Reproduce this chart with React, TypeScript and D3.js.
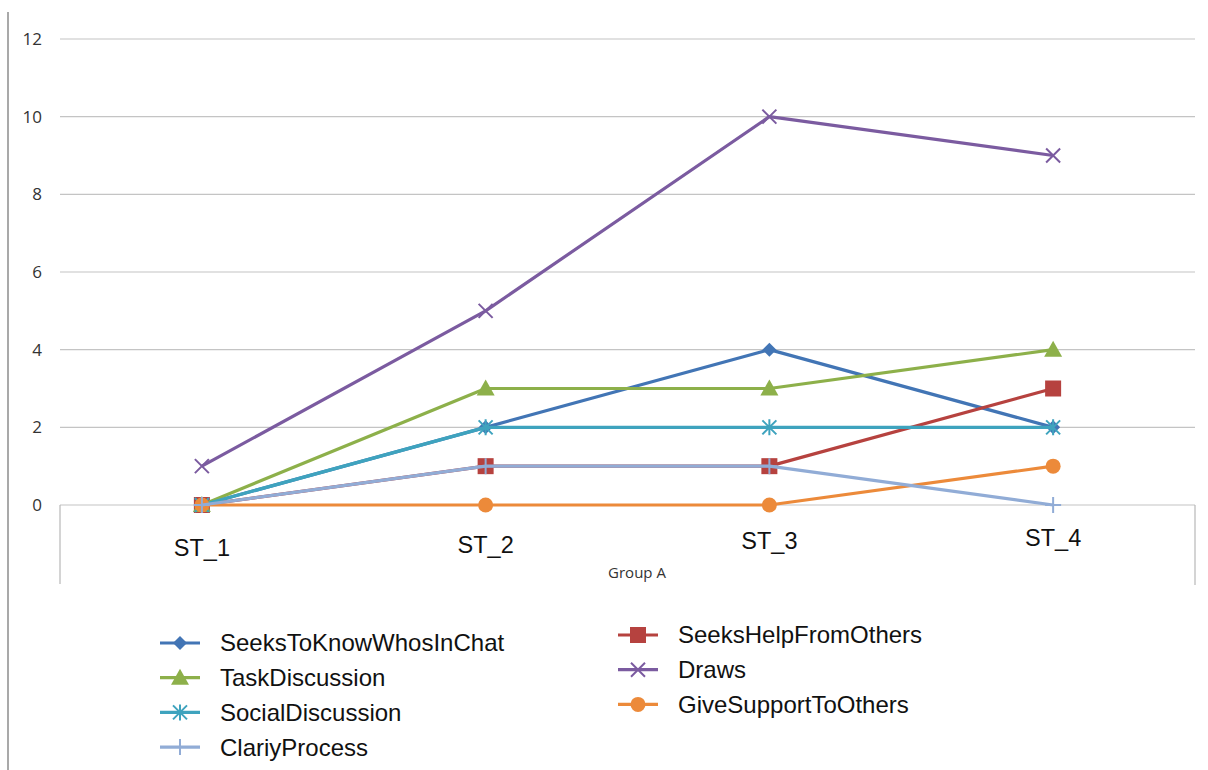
import React, { useEffect, useRef } from 'react';
import * as d3 from 'd3';

const categories = ['ST_1', 'ST_2', 'ST_3', 'ST_4'];
const yTicks = [0, 2, 4, 6, 8, 10, 12];

const seeksToKnow = [0, 2, 4, 2];
const seeksHelp = [0, 1, 1, 3];
const taskDiscussion = [0, 3, 3, 4];
const draws = [1, 5, 10, 9];
const socialDiscussion = [0, 2, 2, 2];
const giveSupport = [0, 0, 0, 1];
const clariyProcess = [0, 1, 1, 0];

type Series = { name: string; values: number[]; color: string; marker: string };

const series: Series[] = [
    { name: 'SeeksToKnowWhosInChat', values: seeksToKnow, color: '#4275B5', marker: 'diamond' },
    { name: 'SeeksHelpFromOthers', values: seeksHelp, color: '#B6423F', marker: 'square' },
    { name: 'TaskDiscussion', values: taskDiscussion, color: '#8DB04A', marker: 'triangle' },
    { name: 'Draws', values: draws, color: '#7B5BA0', marker: 'x' },
    { name: 'SocialDiscussion', values: socialDiscussion, color: '#3EA3BE', marker: 'star' },
    { name: 'GiveSupportToOthers', values: giveSupport, color: '#EC8A3A', marker: 'circle' },
    { name: 'ClariyProcess', values: clariyProcess, color: '#91ACD6', marker: 'plus' },
];

const legendLeft = ['SeeksToKnowWhosInChat', 'TaskDiscussion', 'SocialDiscussion', 'ClariyProcess'];
const legendRight = ['SeeksHelpFromOthers', 'Draws', 'GiveSupportToOthers'];

function drawMarker(g: d3.Selection<SVGGElement, unknown, null, undefined>, kind: string, x: number, y: number, color: string) {
    if (kind === 'diamond') {
        g.append('path').attr('d', `M${x},${y - 7}L${x + 7},${y}L${x},${y + 7}L${x - 7},${y}Z`).attr('fill', color);
    } else if (kind === 'square') {
        g.append('rect').attr('x', x - 8).attr('y', y - 8).attr('width', 16).attr('height', 16).attr('fill', color);
    } else if (kind === 'triangle') {
        g.append('path').attr('d', `M${x},${y - 9}L${x + 9},${y + 7}L${x - 9},${y + 7}Z`).attr('fill', color);
    } else if (kind === 'circle') {
        g.append('circle').attr('cx', x).attr('cy', y).attr('r', 7.5).attr('fill', color);
    } else if (kind === 'x') {
        g.append('path').attr('d', `M${x - 7},${y - 7}L${x + 7},${y + 7}M${x - 7},${y + 7}L${x + 7},${y - 7}`)
            .attr('stroke', color).attr('stroke-width', 2);
    } else if (kind === 'star') {
        g.append('path')
            .attr('d', `M${x - 7},${y - 7}L${x + 7},${y + 7}M${x - 7},${y + 7}L${x + 7},${y - 7}M${x},${y - 8}L${x},${y + 8}`)
            .attr('stroke', color).attr('stroke-width', 2);
    } else if (kind === 'plus') {
        g.append('path').attr('d', `M${x - 8},${y}L${x + 8},${y}M${x},${y - 8}L${x},${y + 8}`)
            .attr('stroke', color).attr('stroke-width', 2);
    }
}

export default function App() {
    const svgRef = useRef<SVGSVGElement | null>(null);

    useEffect(() => {
        if (!svgRef.current) return;
        const svg = d3.select(svgRef.current);
        svg.selectAll('*').remove();

        const left = 60;
        const right = 1195;
        const top = 39;
        const bottom = 505;

        const x = d3.scaleBand().domain(categories).range([left, right]);
        const y = d3.scaleLinear().domain([0, 12]).range([bottom, top]);
        const cx = (c: string) => x(c)! + x.bandwidth() / 2;

        // outer border on the left
        svg.append('line').attr('x1', 8).attr('x2', 8).attr('y1', 12).attr('y2', 770)
            .attr('stroke', '#8c8c8c').attr('stroke-width', 1.5);

        // gridlines
        svg.append('g').selectAll('line').data(yTicks).join('line')
            .attr('x1', left).attr('x2', right)
            .attr('y1', (d) => y(d)).attr('y2', (d) => y(d))
            .attr('stroke', '#c4c4c4').attr('stroke-width', 1.2);

        svg.append('g').selectAll('text').data(yTicks).join('text')
            .attr('x', 42).attr('y', (d) => y(d)).attr('dy', '0.35em')
            .attr('text-anchor', 'end')
            .attr('font-family', 'Open Sans, sans-serif').attr('font-size', 17).attr('fill', '#333')
            .text((d) => d);

        // category box sides
        svg.append('line').attr('x1', left).attr('x2', left).attr('y1', bottom).attr('y2', 584)
            .attr('stroke', '#b8b8b8').attr('stroke-width', 1.2);
        svg.append('line').attr('x1', right).attr('x2', right).attr('y1', bottom).attr('y2', 585)
            .attr('stroke', '#b8b8b8').attr('stroke-width', 1.2);

        svg.append('g').selectAll('text').data(categories).join('text')
            .attr('x', (d) => cx(d)).attr('y', (d, i) => 556 - i * 3.5)
            .attr('text-anchor', 'middle')
            .attr('font-family', 'Liberation Sans, Arial, sans-serif').attr('font-size', 23.5).attr('fill', '#111')
            .text((d) => d);

        svg.append('text').attr('x', 637).attr('y', 578).attr('text-anchor', 'middle')
            .attr('font-family', 'Open Sans, sans-serif').attr('font-size', 15).attr('fill', '#333')
            .text('Group A');

        const line = d3.line<number>()
            .x((_, i) => cx(categories[i]))
            .y((d) => y(d));

        series.forEach((s) => {
            const g = svg.append('g');
            g.append('path').datum(s.values).attr('d', line)
                .attr('fill', 'none').attr('stroke', s.color).attr('stroke-width', 3.2)
                .attr('stroke-linejoin', 'round');
            s.values.forEach((v, i) => drawMarker(g, s.marker, cx(categories[i]), y(v), s.color));
        });

        // legend
        const byName = (n: string) => series.find((s) => s.name === n)!;
        const drawLegend = (names: string[], lx: number, ly: number, step: number) => {
            names.forEach((n, i) => {
                const s = byName(n);
                const yy = ly + i * step;
                const g = svg.append('g');
                g.append('line').attr('x1', lx).attr('x2', lx + 40).attr('y1', yy).attr('y2', yy)
                    .attr('stroke', s.color).attr('stroke-width', 3.2);
                drawMarker(g, s.marker, lx + 20, yy, s.color);
                g.append('text').attr('x', lx + 60).attr('y', yy).attr('dy', '0.35em')
                    .attr('font-family', 'Liberation Sans, Arial, sans-serif').attr('font-size', 24).attr('fill', '#111')
                    .text(n);
            });
        };
        drawLegend(legendLeft, 160, 643, 34.7);
        drawLegend(legendRight, 618, 635, 34.7);
    }, []);

    return <svg ref={svgRef} width={1208} height={770} style={{ position: 'absolute', left: 0, top: 0 }} />;
}
